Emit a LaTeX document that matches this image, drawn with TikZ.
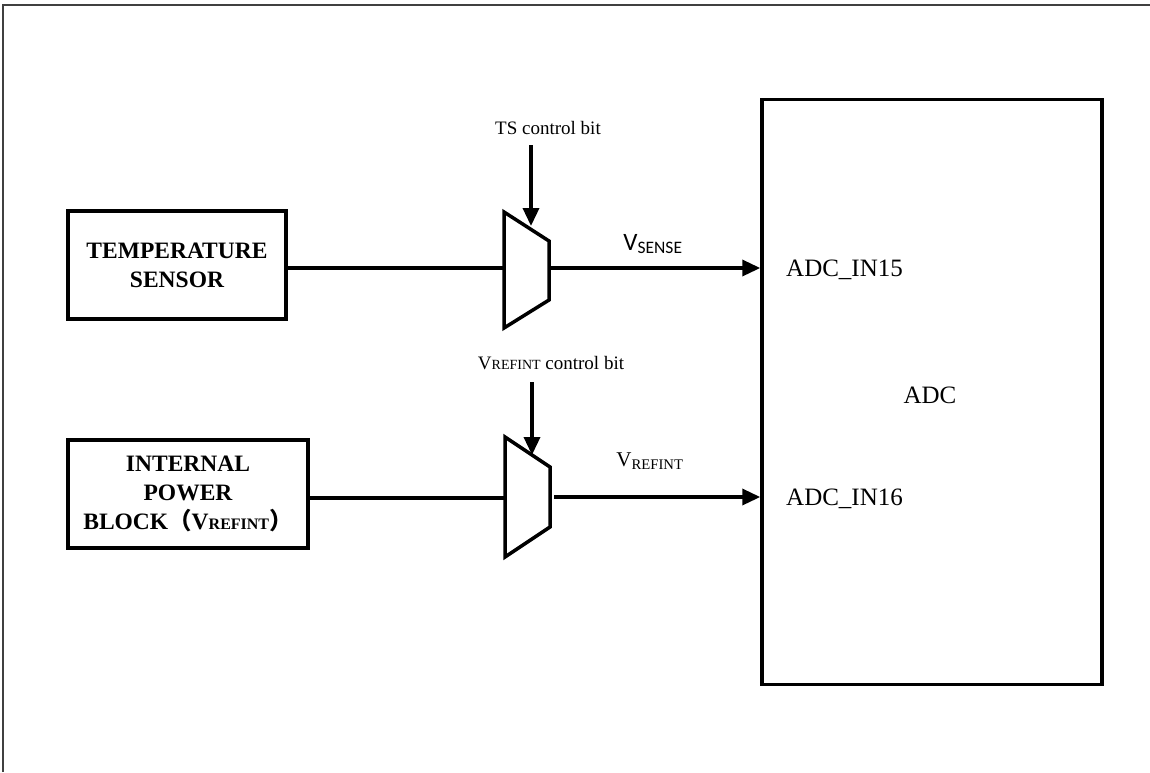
\documentclass[tikz,border=0pt]{standalone}
\usepackage{fontspec}
\setmainfont{Liberation Serif}
\newfontfamily\cjk{Noto Sans CJK SC}
\newfontfamily\calib{Carlito}
\usetikzlibrary{arrows.meta}
\begin{document}
\begin{tikzpicture}[x=1pt,y=-1pt,>={Triangle[length=18pt,width=16pt]},
  blk/.style={draw,line width=3.5pt,align=center,inner sep=0pt,
    font=\fontsize{23.5}{29}\selectfont\bfseries},
  wire/.style={line width=3.5pt},
  lbl/.style={inner sep=0pt,font=\fontsize{19}{22}\selectfont},
  pin/.style={inner sep=0pt,anchor=west,font=\fontsize{25}{28}\selectfont}]
\useasboundingbox (0,0) rectangle (1150,772);
% frame
\draw[line width=1.2pt,black!75] (3,772)--(3,5)--(1150,5);
% blocks
\node[blk,minimum width=218pt,minimum height=108pt] (temp) at (177,265)
  {TEMPERATURE\\SENSOR};
\node[blk,minimum width=240pt,minimum height=108pt] (pwr) at (188,494)
  {INTERNAL\\POWER\\BLOCK{\cjk （}V{\fontsize{16}{20}\selectfont REFINT}{\cjk ）}};
\node[draw,line width=3.5pt,minimum width=340pt,minimum height=585pt,inner sep=0pt] (adc) at (932,392) {};
\node[pin,anchor=center] (adcname) at (930,395) {ADC};
% muxes
\draw[wire,line join=miter] (504,212)--(549,241)--(549,300)--(504,328)--cycle;
\draw[wire,line join=miter] (505,437)--(550,467)--(550,527)--(505,557)--cycle;
\coordinate (m1in) at (504,268);
\coordinate (m1out) at (549,268);
\coordinate (m1top) at (531,226);
\coordinate (m2in) at (505,498);
\coordinate (m2out) at (554,497);
\coordinate (m2top) at (532,455);
% labels
\node[lbl] (tsbit) at (548,128) {TS control bit};
\node[lbl] (refbit) at (551,363) {V{\fontsize{14}{16}\selectfont REFINT} control bit};
\node[inner sep=0pt,font=\fontsize{25}{28}\selectfont\calib] (vsense) at (653,244)
  {V\textsubscript{SENSE}};
\node[inner sep=0pt,font=\fontsize{21}{24}\selectfont] (vref) at (650,461)
  {V\textsubscript{REFINT}};
\node[pin] (in15) at (786,270) {ADC\_IN15};
\node[pin] (in16) at (786,499) {ADC\_IN16};
% connectors
\draw[wire] (temp.east|-m1in)--(m1in);
\draw[wire] (pwr.east|-m2in)--(m2in);
\draw[wire,->] (m1out)--(adc.west|-m1out);
\draw[wire,->] (m2out)--(adc.west|-m2out);
\draw[wire,->] (m1top|-0,145)--(m1top);
\draw[wire,->] (m2top|-0,382)--(m2top);
\end{tikzpicture}
\end{document}
